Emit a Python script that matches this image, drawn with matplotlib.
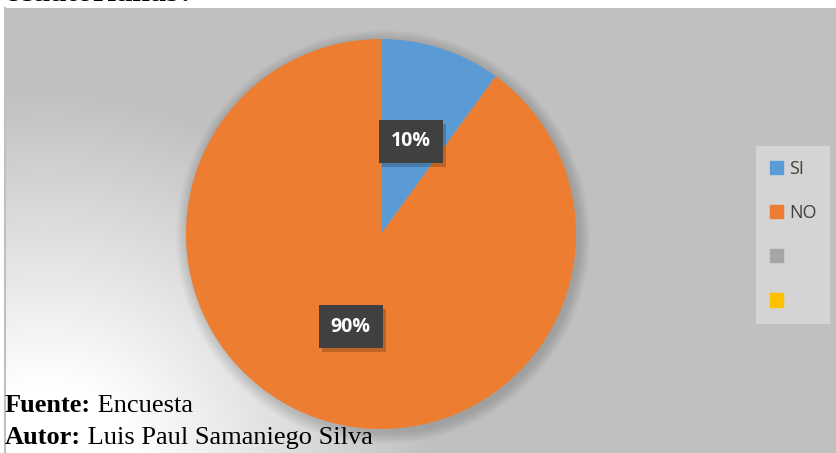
import matplotlib
matplotlib.use('Agg')
import matplotlib.pyplot as plt
import matplotlib.patches as mpatches
import matplotlib.transforms as mtransforms
import numpy as np

# datos de la encuesta
categorias = ['SI', 'NO', '', '']
valores = [10, 90]
colores = ['#5b9bd5', '#ed7d31', '#a5a5a5', '#ffc000']

W, H = 837, 453
fig = plt.figure(figsize=(W / 100, H / 100), dpi=100)
ax = fig.add_axes([0, 0, 1, 1])

# fondo con degradado (blanco abajo a la izquierda, gris el resto)
yy, xx = np.mgrid[0:H, 0:W]
d = np.hypot(xx - 40, (H - yy) + 20)
t = np.clip((d - 90) / 300, 0, 1)
gris = 1 - t * (1 - 0.753)
fondo = np.dstack([gris, gris, gris])
ax.imshow(fondo, extent=(5, W, 0, H - 8), origin='upper', zorder=0, aspect='auto')
ax.plot([5, 5], [0, H - 8], color='#c0c0c0', lw=1.5, zorder=1)

cx, cy, r = 381, H - 234, 195

# sombra suave del pastel
for k in range(12, 0, -1):
    ax.add_patch(mpatches.Circle((cx + 2, cy - 3), r + k, color='k', alpha=0.012, lw=0, zorder=1.5))

wedges, _ = ax.pie(valores, colors=colores[:2], startangle=90, counterclock=False,
                   center=(cx, cy), radius=r, wedgeprops=dict(linewidth=0, zorder=2))
ax.set_xlim(0, W)
ax.set_ylim(0, H)
ax.set_aspect('auto')
ax.axis('off')

# etiquetas de porcentaje
total = sum(valores)
for w, v in zip(wedges, valores):
    ang = np.deg2rad((w.theta1 + w.theta2) / 2)
    x = cx + 0.5 * r * np.cos(ang)
    y = cy + 0.5 * r * np.sin(ang)
    txt = '%d%%' % round(100 * v / total)
    sombra = mtransforms.offset_copy(ax.transData, fig=fig, x=3, y=-4, units='dots')
    ax.text(x, y, txt, transform=sombra, ha='center', va='center', fontsize=14,
            fontweight='bold', family='Open Sans', color='none', zorder=3,
            bbox=dict(boxstyle='square,pad=0.6', fc='#000000', ec='none', alpha=0.2))
    ax.text(x, y, txt, ha='center', va='center', fontsize=14, fontweight='bold',
            family='Open Sans', color='white', zorder=4,
            bbox=dict(boxstyle='square,pad=0.6', fc='#404040', ec='none'))

# leyenda
handles = [mpatches.Patch(color=c, label=l) for c, l in zip(colores, categorias)]
leg = ax.legend(handles=handles, loc='center left', bbox_to_anchor=(756, H - 235),
                bbox_transform=ax.transData, frameon=True, fancybox=False, shadow=False,
                prop={'family': 'Open Sans', 'size': 13}, labelcolor='#404040',
                handlelength=0.75, handleheight=0.75, handletextpad=0.35,
                labelspacing=1.45, borderpad=0.75, borderaxespad=0)
leg.get_frame().set_facecolor('#d4d4d4')
leg.get_frame().set_edgecolor('none')
leg.get_frame().set_alpha(1)
leg.set_zorder(5)

# textos
serif = 'Liberation Serif'
fig.text(5 / W, 1 - 1 / H, 'ecuatorianas?', ha='left', va='baseline', fontsize=23,
         fontweight='bold', family=serif)
t1 = fig.text(5 / W, 1 - 412 / H, 'Fuente:', ha='left', va='baseline', fontsize=19,
              fontweight='bold', family=serif)
ax.annotate(' Encuesta', xy=(1, 0), xycoords=t1, ha='left', va='bottom',
            fontsize=19, family=serif, annotation_clip=False)
t2 = fig.text(5 / W, 1 - 444 / H, 'Autor:', ha='left', va='baseline', fontsize=19,
              fontweight='bold', family=serif)
ax.annotate(' Luis Paul Samaniego Silva', xy=(1, 0), xycoords=t2, ha='left', va='bottom',
            fontsize=19, family=serif, annotation_clip=False)

fig.savefig('out.png', dpi=100)
